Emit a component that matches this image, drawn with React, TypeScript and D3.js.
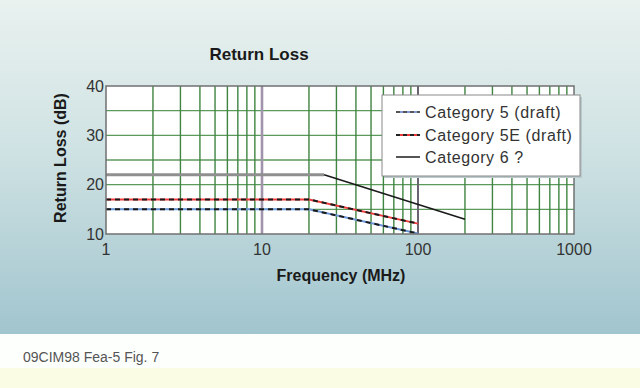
import React from "react";
import * as d3 from "d3";

const title = "Return Loss";
const xTitle = "Frequency (MHz)";
const yTitle = "Return Loss (dB)";
const caption = "09CIM98 Fea-5 Fig. 7";

const xTicks = [1, 10, 100, 1000];
const yTicks = [10, 20, 30, 40];
const yGrid = [15, 20, 25, 30, 35];

const seriesNames = ["Category 5 (draft)", "Category 5E (draft)", "Category 6 ?"];
const cat5Freq = [1, 20, 100];
const cat5Val = [15, 15, 10.1];
const cat5eFreq = [1, 20, 100];
const cat5eVal = [17, 17, 12.1];
const cat6Freq = [1, 25, 200];
const cat6Val = [22, 22, 13];

const W = 640;
const H = 388;

export default function App() {
  const x = d3.scaleLog().domain([1, 1000]).range([106, 574]);
  const y = d3.scaleLinear().domain([10, 40]).range([234, 86]);
  const line = d3
    .line<[number, number]>()
    .x((d) => x(d[0]))
    .y((d) => y(d[1]));

  const minor: number[] = [];
  for (let k = 0; k < 3; k++) {
    for (let n = 2; n <= 9; n++) minor.push(n * Math.pow(10, k));
  }

  const pts = (f: number[], v: number[]) => f.map((d, i) => [d, v[i]] as [number, number]);
  const c5 = pts(cat5Freq, cat5Val);
  const c5e = pts(cat5eFreq, cat5eVal);
  const c6 = pts(cat6Freq, cat6Val);

  const legX = 382;
  const legY = 95;
  const legRows = [112, 135, 157];
  const font = "'Liberation Sans', Arial, sans-serif";

  return (
    <svg
      width={W}
      height={H}
      style={{ position: "absolute", left: 0, top: 0, display: "block" }}
      fontFamily={font}
    >
      <defs>
        <linearGradient id="bg" x1="0" y1="0" x2="0" y2="1">
          <stop offset="0" stopColor="#e9f2ef" />
          <stop offset="0.45" stopColor="#cfe2e3" />
          <stop offset="1" stopColor="#a1c5ce" />
        </linearGradient>
        <clipPath id="plot">
          <rect x={106} y={86} width={468} height={148} />
        </clipPath>
      </defs>
      <rect x={0} y={0} width={W} height={334} fill="url(#bg)" />
      <rect x={0} y={334} width={W} height={34} fill="#fdfffd" />
      <rect x={0} y={368} width={W} height={20} fill="#fafde4" />

      <text x={259} y={60} textAnchor="middle" fontSize={17} fontWeight="bold" fill="#1a1a1a">
        {title}
      </text>

      {/* plot */}
      <rect x={106} y={86} width={468} height={148} fill="#ffffff" />
      <g clipPath="url(#plot)">
        {yGrid.map((v) => (
          <line key={"h" + v} x1={106} x2={574} y1={y(v)} y2={y(v)} stroke="#5c9a5c" strokeWidth={1.3} />
        ))}
        {minor.map((f) => (
          <line key={"v" + f} x1={x(f)} x2={x(f)} y1={86} y2={234} stroke="#3f8440" strokeWidth={1.4} />
        ))}
        <line x1={x(10)} x2={x(10)} y1={86} y2={234} stroke="#a093aa" strokeWidth={2.6} />
        <line x1={x(100)} x2={x(100)} y1={86} y2={234} stroke="#6b6272" strokeWidth={2} />

        {/* Category 6 */}
        <path d={line(c6.slice(0, 2)) || ""} fill="none" stroke="#8f8f8f" strokeWidth={3} />
        <path d={line(c6.slice(1)) || ""} fill="none" stroke="#1a1a1a" strokeWidth={1.6} />
        {/* Category 5E */}
        <path d={line(c5e) || ""} fill="none" stroke="#ee3b3b" strokeWidth={2} />
        <path d={line(c5e) || ""} fill="none" stroke="#1a1a1a" strokeWidth={2} strokeDasharray="5,4" />
        {/* Category 5 */}
        <path d={line(c5) || ""} fill="none" stroke="#6b96d8" strokeWidth={2} />
        <path d={line(c5) || ""} fill="none" stroke="#1a1a1a" strokeWidth={2} strokeDasharray="5,4" />
      </g>
      <rect x={106} y={86} width={468} height={148} fill="none" stroke="#707070" strokeWidth={1.5} />

      {/* legend */}
      <rect x={legX + 2} y={legY + 2} width={198} height={81} fill="#b9c9cc" />
      <rect x={legX} y={legY} width={198} height={81} fill="#ffffff" stroke="#8a8a8a" strokeWidth={1} />
      {seriesNames.map((name, i) => {
        const ly = legRows[i];
        return (
          <g key={name}>
            {i === 0 && (
              <>
                <line x1={396} x2={420} y1={ly} y2={ly} stroke="#7c9ad0" strokeWidth={2} />
                <line x1={396} x2={420} y1={ly} y2={ly} stroke="#555" strokeWidth={2} strokeDasharray="4,3" />
              </>
            )}
            {i === 1 && (
              <>
                <line x1={396} x2={420} y1={ly} y2={ly} stroke="#ee3b3b" strokeWidth={2} />
                <line x1={396} x2={420} y1={ly} y2={ly} stroke="#222" strokeWidth={2} strokeDasharray="4,3" />
              </>
            )}
            {i === 2 && <line x1={396} x2={420} y1={ly} y2={ly} stroke="#555" strokeWidth={2} />}
            <text x={425} y={ly + 5.5} fontSize={16} letterSpacing={0.6} fill="#333">
              {name}
            </text>
          </g>
        );
      })}

      {/* axis labels */}
      {yTicks.map((v) => (
        <text key={"yt" + v} x={104} y={y(v) + 5.5} textAnchor="end" fontSize={16} fill="#333">
          {v}
        </text>
      ))}
      {xTicks.map((v) => (
        <text key={"xt" + v} x={x(v)} y={255} textAnchor="middle" fontSize={16} fill="#333">
          {v}
        </text>
      ))}
      <text x={341} y={281} textAnchor="middle" fontSize={16} fontWeight="bold" fill="#1a1a1a">
        {xTitle}
      </text>
      <text
        transform="translate(66,158) rotate(-90)"
        textAnchor="middle"
        fontSize={16}
        fontWeight="bold"
        fill="#1a1a1a"
      >
        {yTitle}
      </text>

      <text x={23} y={362} fontSize={14} fill="#555">
        {caption}
      </text>
    </svg>
  );
}
